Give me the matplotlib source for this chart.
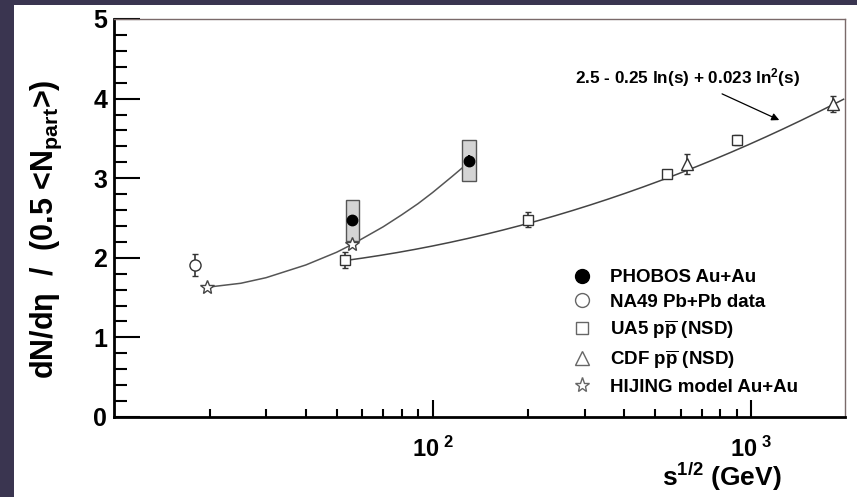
import numpy as np
import matplotlib
matplotlib.use("Agg")
import matplotlib.pyplot as plt
from matplotlib.patches import Rectangle
from matplotlib.lines import Line2D

plt.rcParams['font.family'] = ['Liberation Sans', 'DejaVu Sans']
plt.rcParams['mathtext.fontset'] = 'custom'
plt.rcParams['mathtext.rm'] = 'Liberation Sans:bold'
plt.rcParams['mathtext.bf'] = 'Liberation Sans:bold'
plt.rcParams['mathtext.it'] = 'Liberation Sans:bold'

# data
phobos_x = [56, 130]
phobos_y = [2.47, 3.22]
phobos_err = [0.07, 0.07]
phobos_sys = [0.26, 0.26]

na49_x = [18.0]
na49_y = [1.91]
na49_err = [0.14]

ua5_x = [53, 200, 546, 900]
ua5_y = [1.97, 2.48, 3.05, 3.48]
ua5_err = [0.10, 0.09, 0.05, 0.06]

cdf_x = [630, 1800]
cdf_y = [3.18, 3.93]
cdf_err = [0.13, 0.10]

hijing_x = [19.6, 56]
hijing_y = [1.63, 2.17]

# HIJING trend line
hijing_curve_x = [19.6, 25, 30, 40, 50, 56, 70, 80, 90, 100, 115, 130]
hijing_curve_y = [1.63, 1.68, 1.75, 1.91, 2.07, 2.17, 2.39, 2.54, 2.68, 2.82, 3.02, 3.20]

# fit shown on the chart: a + b ln(s) + c ln^2(s)
fit_a, fit_b, fit_c = 2.5, -0.25, 0.023
fit_range = [53, 1950]

legend_labels = ['PHOBOS Au+Au', 'NA49 Pb+Pb data',
                 r'UA5 p$\overline{\mathrm{p}}$ (NSD)',
                 r'CDF p$\overline{\mathrm{p}}$ (NSD)',
                 'HIJING model Au+Au']

fig = plt.figure(figsize=(8.57, 4.97), dpi=100)
fig.patch.set_facecolor('#3a3550')
fig.patches.append(Rectangle((14 / 857, 0), 1, 492 / 497, transform=fig.transFigure,
                             facecolor='white', edgecolor='none', zorder=-10))

ax = fig.add_axes([114 / 857, 80 / 497, 731 / 857, 398 / 497])
ax.set_facecolor('white')
ax.set_xscale('log')
ax.set_xlim(10, 1970)
ax.set_ylim(0, 5)

# fit curve
sq = np.logspace(np.log10(fit_range[0]), np.log10(fit_range[1]), 200)
ls = np.log(sq ** 2)
ax.plot(sq, fit_a + fit_b * ls + fit_c * ls ** 2, color='#444444', lw=1.1, zorder=2)

# hijing line
ax.plot(hijing_curve_x, hijing_curve_y, color='#555555', lw=1.1, zorder=2)

# phobos systematic boxes
for x, y, s in zip(phobos_x, phobos_y, phobos_sys):
    f = 1.05
    ax.add_patch(Rectangle((x / f, y - s), x * f - x / f, 2 * s, facecolor='#d4d4d4',
                           edgecolor='#555555', lw=1, zorder=3))

ax.errorbar(phobos_x, phobos_y, yerr=phobos_err, fmt='o', color='black', ms=7.5,
            capsize=0, elinewidth=1.5, zorder=5)
ax.errorbar(na49_x, na49_y, yerr=na49_err, fmt='o', mfc='white', mec='#333333', ecolor='#333333',
            ms=8, mew=1, capsize=2, elinewidth=1.2, zorder=5)
ax.errorbar(ua5_x, ua5_y, yerr=ua5_err, fmt='s', mfc='white', mec='#333333', ecolor='#333333',
            ms=7, mew=1, capsize=2, elinewidth=1.2, zorder=5)
ax.errorbar(cdf_x, cdf_y, yerr=cdf_err, fmt='^', mfc='white', mec='#333333', ecolor='#333333',
            ms=8, mew=1, capsize=2, elinewidth=1.2, zorder=5)
ax.plot(hijing_x, hijing_y, '*', mfc='white', mec='#444444', ms=10, mew=1, zorder=5)

# annotation for the fit
ax.annotate(r'2.5 - 0.25 ln(s) + 0.023 ln$^{2}$(s)', xy=(1225, 3.73), xytext=(630, 4.26),
            ha='center', va='center', fontsize=12.3, fontweight='bold',
            arrowprops=dict(arrowstyle='-|>', color='black', lw=0.9, mutation_scale=11,
                            shrinkA=3, shrinkB=0))

# legend
handles = [
    Line2D([], [], ls='none', marker='o', color='black', ms=10),
    Line2D([], [], ls='none', marker='o', mfc='white', mec='#666666', ms=10, mew=1),
    Line2D([], [], ls='none', marker='s', mfc='white', mec='#666666', ms=9, mew=1),
    Line2D([], [], ls='none', marker='^', mfc='white', mec='#666666', ms=10, mew=1),
    Line2D([], [], ls='none', marker='*', mfc='white', mec='#666666', ms=11, mew=1),
]
leg = ax.legend(handles, legend_labels, loc='upper left', bbox_to_anchor=(0.628, 0.372),
                frameon=False, fontsize=13.5, handlelength=1.0, handletextpad=0.95,
                labelspacing=0.4, borderpad=0, borderaxespad=0)
for t in leg.get_texts():
    t.set_fontweight('bold')

# axes styling
for side in ['left', 'bottom']:
    ax.spines[side].set_linewidth(2)
    ax.spines[side].set_color('black')
for side in ['top', 'right']:
    ax.spines[side].set_linewidth(1)
    ax.spines[side].set_color('#7a6a6a')

ax.set_yticks([0, 1, 2, 3, 4, 5])
ax.set_yticks(np.arange(0, 5.01, 0.2), minor=True)
ax.set_yticklabels(['0', '1', '2', '3', '4', '5'])
ax.tick_params(axis='y', which='major', direction='in', length=19, width=1.5, pad=5,
               labelsize=18, right=False)
ax.tick_params(axis='y', which='minor', direction='in', length=9, width=1.5, right=False)
ax.set_xticks([100, 1000])
ax.set_xticklabels([r'$\mathbf{10^{\ 2}}$', r'$\mathbf{10^{\ 3}}$'])
ax.tick_params(axis='x', which='major', direction='in', length=12, width=1.5, pad=14,
               labelsize=17, top=False)
ax.tick_params(axis='x', which='minor', direction='in', length=6, width=1.5, top=False,
               labelbottom=False)
for lab in ax.get_yticklabels():
    lab.set_fontweight('bold')

ax.set_xlabel(r'$\mathbf{s^{1/2}}$ (GeV)', fontsize=19, fontweight='bold', va='bottom')
ax.xaxis.set_label_coords(0.832, -0.19)
ax.set_ylabel(r'dN/d$\eta$  /  (0.5 <N$_{\mathrm{part}}$>)', fontsize=22, fontweight='bold')
ax.yaxis.set_label_coords(-0.069, 0.472)

fig.savefig('out.png', dpi=100, facecolor=fig.get_facecolor())
